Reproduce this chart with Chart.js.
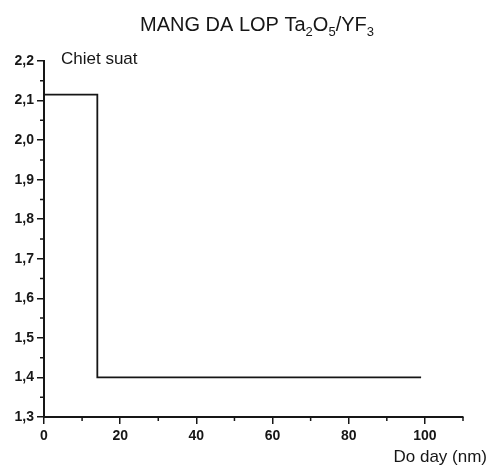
<!DOCTYPE html>
<html>
<head>
<meta charset="utf-8">
<title>MANG DA LOP Ta2O5/YF3</title>
<script src="https://cdn.jsdelivr.net/npm/chart.js@4"></script>
<style>
  html, body { margin: 0; padding: 0; background: #ffffff; }
  #wrap { width: 490px; height: 470px; position: relative; }
</style>
</head>
<body>
<div id="wrap"><canvas id="chart" width="490" height="470"></canvas></div>
<script>
// Refractive-index profile of the Ta2O5 / YF3 multilayer film
const thickness = [0, 14, 14, 99];                // Do day (nm)
const refractiveIndex = [2.115, 2.115, 1.40, 1.40]; // Chiet suat
const xMajorTicks = [0, 20, 40, 60, 80, 100];
const xMinorTicks = [10, 30, 50, 70, 90, 110];
const yMajorTicks = [1.3, 1.4, 1.5, 1.6, 1.7, 1.8, 1.9, 2.0, 2.1, 2.2];
const yMinorTicks = [1.35, 1.45, 1.55, 1.65, 1.75, 1.85, 1.95, 2.05, 2.15];

const INK = '#161616';
const FONT = '"Liberation Sans", Arial, sans-serif';

// Title with chemical-formula subscripts, axis names and minor tick marks
const decorations = {
  id: 'decorations',
  beforeDraw(chart) {
    const ctx = chart.ctx;
    ctx.save();
    ctx.fillStyle = '#ffffff';
    ctx.fillRect(0, 0, chart.width, chart.height);
    ctx.restore();
  },
  afterDraw(chart) {
    const ctx = chart.ctx;
    const x = chart.scales.x, y = chart.scales.y;
    ctx.save();
    ctx.strokeStyle = INK;
    ctx.lineWidth = 1.5;
    ctx.beginPath();
    xMinorTicks.forEach(v => {
      const px = x.getPixelForValue(v);
      ctx.moveTo(px, y.bottom);
      ctx.lineTo(px, y.bottom + 4);
    });
    yMinorTicks.forEach(v => {
      const py = y.getPixelForValue(v);
      ctx.moveTo(x.left, py);
      ctx.lineTo(x.left - 4, py);
    });
    ctx.stroke();

    // title: MANG DA LOP Ta2O5/YF3
    const parts = [
      ['MANG DA LOP Ta', false], ['2', true], ['O', false], ['5', true],
      ['/YF', false], ['3', true]
    ];
    const mainFont = '20px ' + FONT, subFont = '13px ' + FONT;
    let total = 0;
    parts.forEach(([t, sub]) => { ctx.font = sub ? subFont : mainFont; total += ctx.measureText(t).width; });
    let cx = 257 - total / 2;
    const base = 31;
    ctx.fillStyle = INK;
    ctx.textBaseline = 'alphabetic';
    ctx.textAlign = 'left';
    parts.forEach(([t, sub]) => {
      ctx.font = sub ? subFont : mainFont;
      ctx.fillText(t, cx, sub ? base + 5 : base);
      cx += ctx.measureText(t).width;
    });

    ctx.font = '17px ' + FONT;
    ctx.fillText('Chiet suat', 61, 64);
    ctx.textAlign = 'right';
    ctx.fillText('Do day (nm)', 487, 462);
    ctx.restore();
  }
};

const fmt = v => Number(v).toFixed(1).replace('.', ',');

new Chart(document.getElementById('chart'), {
  type: 'line',
  data: {
    datasets: [{
      data: thickness.map((t, i) => ({ x: t, y: refractiveIndex[i] })),
      borderColor: INK,
      borderWidth: 1.8,
      pointRadius: 0,
      tension: 0,
      fill: false
    }]
  },
  options: {
    responsive: false,
    animation: false,
    layout: { padding: { top: 61, right: 27, bottom: 0, left: 0 } },
    plugins: { legend: { display: false }, title: { display: false }, tooltip: { enabled: false } },
    scales: {
      x: {
        type: 'linear',
        min: 0, max: 110,
        afterBuildTicks: s => { s.ticks = xMajorTicks.map(v => ({ value: v })); },
        afterFit: s => { s.height = 53; },
        grid: { display: true, drawOnChartArea: false, drawTicks: true, tickLength: 7, color: INK, lineWidth: 1.5 },
        border: { display: true, color: INK, width: 2 },
        ticks: { color: INK, font: { family: FONT, size: 14, weight: 'bold' }, padding: 4, maxRotation: 0 }
      },
      y: {
        type: 'linear',
        min: 1.3, max: 2.2,
        afterBuildTicks: s => { s.ticks = yMajorTicks.map(v => ({ value: v })); },
        afterFit: s => { s.width = 44; },
        grid: { display: true, drawOnChartArea: false, drawTicks: true, tickLength: 7, color: INK, lineWidth: 1.5 },
        border: { display: true, color: INK, width: 2 },
        ticks: { color: INK, font: { family: FONT, size: 14, weight: 'bold' }, padding: 3, callback: fmt }
      }
    }
  },
  plugins: [decorations]
});
</script>
</body>
</html>
